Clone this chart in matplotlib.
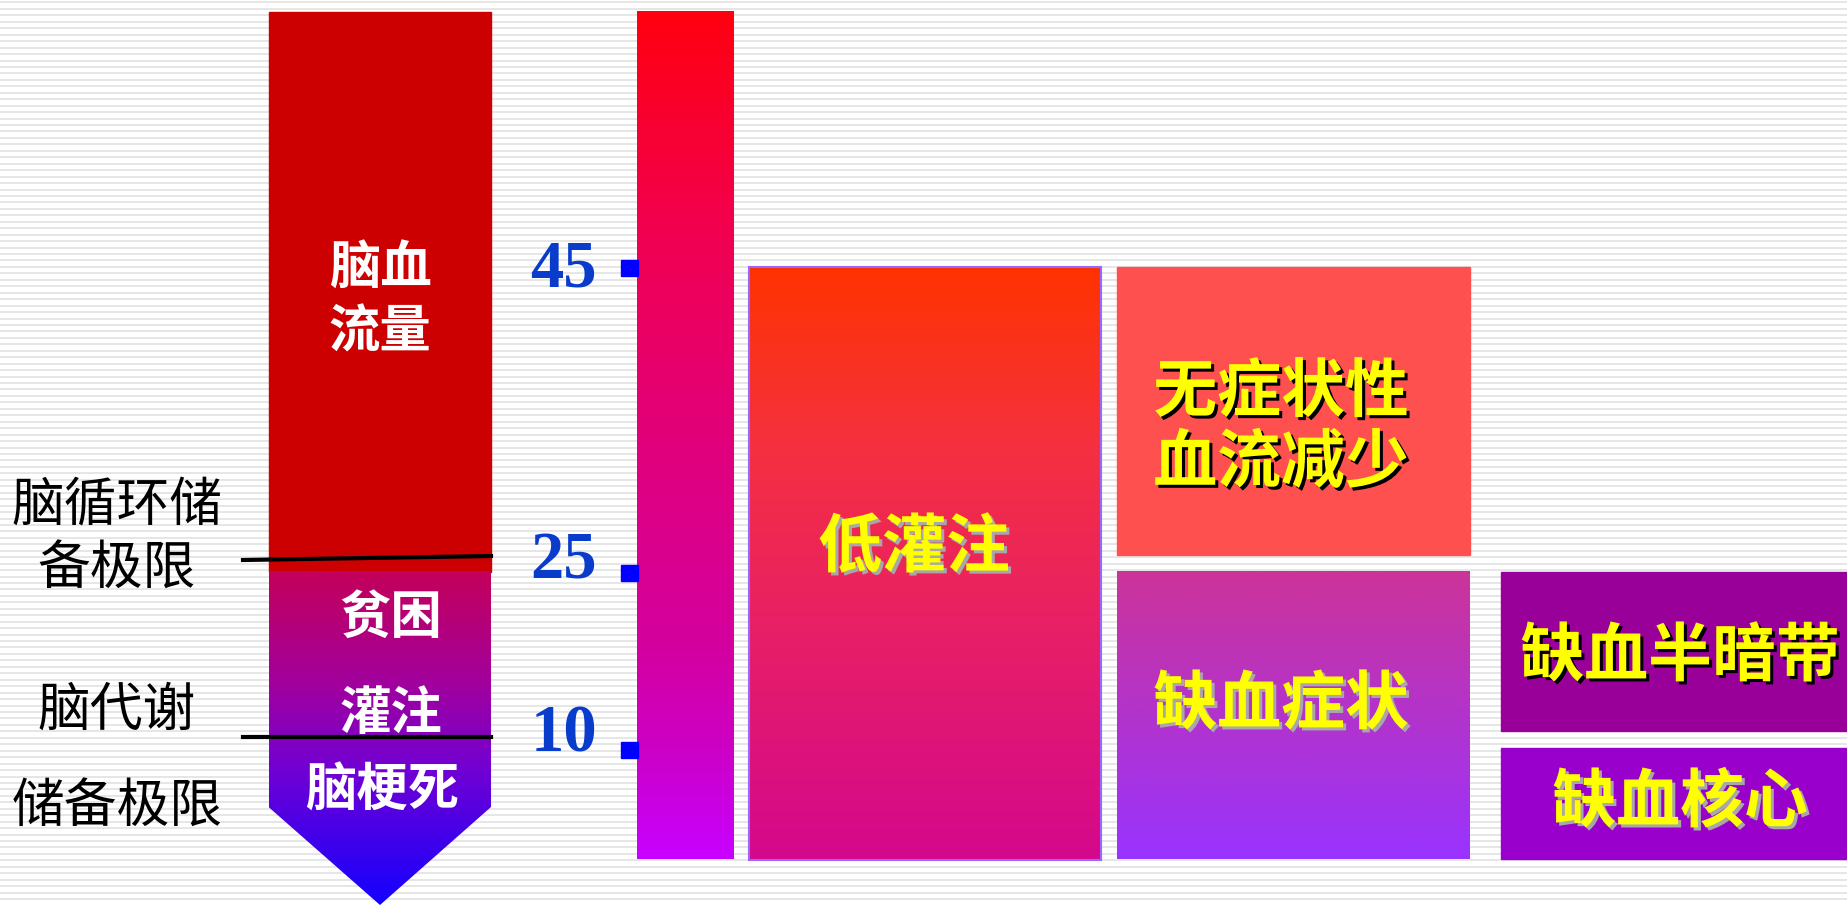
import numpy as np
import matplotlib
matplotlib.use('Agg')
import matplotlib.pyplot as plt
from matplotlib.patches import Polygon, Rectangle
from matplotlib.colors import LinearSegmentedColormap
import matplotlib.patheffects as pe

plt.rcParams['font.family'] = ['Noto Sans CJK SC', 'DejaVu Sans']

# values on the CBF scale (ml/100g/min)
flow_levels = [45, 25, 10]
# labels left of the bar
reserve_labels = ['脑循环储', '备极限', '脑代谢', '储备极限']
# labels inside the left bar
bar_labels = ['脑血', '流量', '贫困', '灌注', '脑梗死']
# the boxes on the right
low_perf_label = '低灌注'
stage_labels = ['无症状性\n血流减少', '缺血症状']
core_labels = ['缺血半暗带', '缺血核心']

W, H = 1847, 905
fig = plt.figure(figsize=(W / 100, H / 100), dpi=100)
ax = fig.add_axes([0, 0, 1, 1])
ax.set_axis_off()

# striped background
for y in np.arange(2.5, H, 6.45):
    ax.axhline(y, color='#e6e6e6', lw=1.4, zorder=0)


def gradient(x0, x1, y0, y1, colors, clip=None, z=2):
    cmap = LinearSegmentedColormap.from_list('g', colors)
    grad = np.linspace(0, 1, 256).reshape(-1, 1)
    im = ax.imshow(grad, extent=(x0, x1, y1, y0), cmap=cmap, aspect='auto',
                   origin='upper', zorder=z, interpolation='bilinear')
    if clip is not None:
        im.set_clip_path(clip)
    return im


# left bar: red upper part + gradient arrow
ax.add_patch(Rectangle((268.5, 12), 222.5, 560, color='#cc0000', zorder=2))
arrow = Polygon([(268.5, 571), (491, 571), (491, 807), (380, 905), (268.5, 807)],
                closed=True, facecolor='none', edgecolor='none', zorder=2)
ax.add_patch(arrow)
gradient(268.5, 491, 571, 905,
         [(0, '#c4005a'), (0.35, '#a000a0'), (0.6, '#7000d4'), (1, '#1400ff')],
         clip=arrow)

ax.plot([243, 491], [560, 556], color='black', lw=3.0, zorder=4)
ax.plot([243, 491], [737, 737], color='black', lw=3.0, zorder=4)

white_pos = [(380, 268), (380, 332), (391, 617), (391, 713), (382, 790)]
for txt, (x, y) in zip(bar_labels, white_pos):
    ax.text(x, y, txt, ha='center', va='center', color='white',
            fontsize=37, fontweight='bold', zorder=5)

left_pos = [(117, 505), (117, 568), (117, 710), (117, 806)]
for txt, (x, y) in zip(reserve_labels, left_pos):
    ax.text(x, y, txt, ha='center', va='center', color='black',
            fontsize=38, zorder=5)

# scale numbers with tick marks
num_y = [270, 562, 735]
tick_y = [268, 573, 750]
for v, ny, ty in zip(flow_levels, num_y, tick_y):
    ax.text(597, ny, str(v), ha='right', va='center', color='#0a3ccc',
            fontfamily='Liberation Serif', fontweight='bold', fontsize=48, zorder=5)
    ax.add_patch(Rectangle((621, ty - 8), 17, 16, color='#0000ff', zorder=3))

# gradient scale bar
gradient(637, 734, 12, 859,
         [(0, '#ff0010'), (0.25, '#f2004e'), (0.5, '#e2007a'),
          (0.75, '#d4009f'), (0.88, '#cc00c8'), (1, '#c800ff')])

yellow_grey = dict(color='#ffff00', fontweight='bold', ha='center', va='center',
                   path_effects=[pe.withSimplePatchShadow(offset=(2.2, -2.2),
                                                          shadow_rgbFace='#a8a8a8', alpha=1)],
                   zorder=6)
yellow_black = dict(color='#ffff00', fontweight='bold', ha='center', va='center',
                    path_effects=[pe.withSimplePatchShadow(offset=(2.2, -2.2),
                                                           shadow_rgbFace='black', alpha=1)],
                    zorder=6)

# low perfusion box
gradient(749, 1101, 267, 860,
         [(0, '#ff3300'), (0.3, '#f5303f'), (0.6, '#e82065'), (1, '#d4088c')])
ax.add_patch(Rectangle((749, 267), 352, 593, facecolor='none',
                       edgecolor='#9966ff', lw=1.5, zorder=3))
ax.text(914, 548, low_perf_label, fontsize=46, **yellow_grey)

# middle column
ax.add_patch(Rectangle((1117, 267), 353, 288, color='#ff5050', zorder=2))
ax.text(1281, 428, stage_labels[0], fontsize=46, linespacing=1.1, **yellow_black)
gradient(1117, 1470, 572, 859, [(0, '#cc3399'), (1, '#9933ff')])
ax.text(1281, 705, stage_labels[1], fontsize=46, **yellow_grey)

# right column
ax.add_patch(Rectangle((1501, 572), 346, 159, color='#990099', zorder=2))
ax.text(1680, 657, core_labels[0], fontsize=46, **yellow_black)
ax.add_patch(Rectangle((1501, 748), 346, 111, color='#9900cc', zorder=2))
ax.text(1680, 803, core_labels[1], fontsize=46, **yellow_grey)

ax.set_xlim(0, W)
ax.set_ylim(H, 0)
fig.savefig('out.png', dpi=100)
